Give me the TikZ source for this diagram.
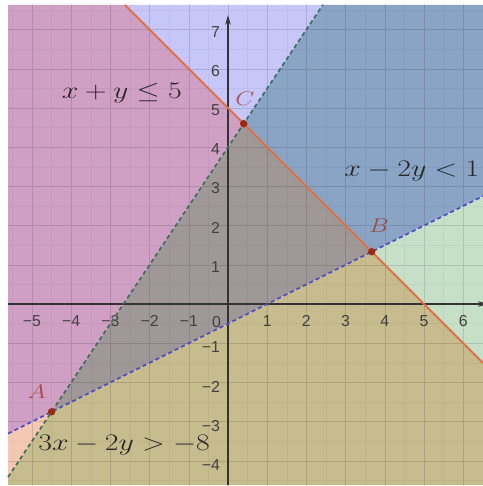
\documentclass[tikz,border=0pt]{standalone}
\usepackage{amsmath}
\usepackage{graphicx}
\usepackage{fontspec}
\newfontfamily\tickfont{Liberation Sans}
\usepackage{tikz}
\usetikzlibrary{arrows.meta}
\usepackage{xcolor}
\definecolor{triangle}{RGB}{160,152,150}
\definecolor{lavender}{RGB}{198,198,248}
\definecolor{steel}{RGB}{138,164,198}
\definecolor{palegreen}{RGB}{198,224,200}
\definecolor{khaki}{RGB}{198,188,142}
\definecolor{peach}{RGB}{245,200,180}
\definecolor{pinkish}{RGB}{208,160,196}
\definecolor{orangeline}{RGB}{224,112,72}
\definecolor{blueline}{RGB}{74,74,200}
\definecolor{greenline}{RGB}{60,110,90}
\definecolor{pointred}{RGB}{154,42,20}
\newcommand{\widetext}[1]{\scalebox{1.25}[1]{#1}}

\begin{document}
\begin{tikzpicture}[
    tick/.style={font=\tickfont\fontsize{11.5}{13}\selectfont, text=black!75, inner sep=0pt},
    ineq/.style={font=\fontsize{16}{19}\selectfont, text=black!85},
    ptlabel/.style={font=\fontsize{14}{17}\selectfont, text=pointred, text opacity=0.7},
    dashedline/.style={line width=1.2pt, dash pattern=on 3pt off 2.2pt},
    axisline/.style={line width=0.9pt, draw=black!80, -{Stealth[length=7pt,width=4pt]}}
  ]
    \useasboundingbox (-5.816,-4.643) rectangle (6.505,7.755);
    \fill[white] (-5.816,-4.643) rectangle (6.505,7.755);

    % vertices
    \coordinate (A) at (-4.5,-2.75);
    \coordinate (B) at ({11/3},{4/3});
    \coordinate (C) at (0.4,4.6);
    % box corners
    \coordinate (TL) at (-5.61,7.63);
    \coordinate (TR) at (6.505,7.63);
    \coordinate (BR) at (6.505,-4.62);
    \coordinate (BL) at (-5.61,-4.62);
    % where the lines leave the box
    \coordinate (L1top) at (-2.63,7.63);
    \coordinate (L1right) at (6.505,-1.505);
    \coordinate (L2left) at (-5.61,-3.305);
    \coordinate (L2right) at (6.505,2.7525);
    \coordinate (L3top) at (2.42,7.63);
    \coordinate (L3left) at (-5.61,-4.415);

    % regions
    \fill[triangle] (A) -- (B) -- (C) -- cycle;
    \fill[lavender] (C) -- (L1top) -- (L3top) -- cycle;
    \fill[steel] (C) -- (L3top) -- (TR) -- (L2right) -- (B) -- cycle;
    \fill[palegreen] (B) -- (L2right) -- (L1right) -- cycle;
    \fill[khaki] (A) -- (B) -- (L1right) -- (BR) -- (BL) -- (L3left) -- cycle;
    \fill[peach] (A) -- (L3left) -- (L2left) -- cycle;
    \fill[pinkish] (L2left) -- (A) -- (C) -- (L1top) -- (TL) -- cycle;

    % grid
    \begin{scope}
        \clip (BL) rectangle (TR);
        \draw[black, opacity=0.04, step=0.5] (-6,-5) grid (7,8);
        \draw[black, opacity=0.09, step=1] (-6,-5) grid (7,8);
    \end{scope}

    % axes
    \draw[axisline] (-5.61,0) -- (6.62,0);
    \draw[axisline] (0,-4.62) -- (0,7.37);

    % tick labels
    \foreach \x in {1,...,6}
        \node[tick] (xp\x) at (\x,-0.43) {\x};
    \foreach \x in {1,...,5}
        \node[tick] (xm\x) at (-\x,-0.43) {−\x};
    \node[tick] (origin) at (-0.29,-0.45) {0};
    \foreach \y in {1,...,7}
        \node[tick, anchor=east] (yp\y) at (-0.2,\y-0.05) {\y};
    \foreach \y in {1,...,4}
        \node[tick, anchor=east] (ym\y) at (-0.2,-\y-0.11) {−\y};

    % boundary lines
    \draw[orangeline, line width=1.4pt] (L1top) -- (L1right);
    \draw[blueline, dashedline] (L2left) -- (L2right);
    \draw[greenline, dashedline] (L3left) -- (L3top);

    % corner points
    \foreach \p in {A,B,C}
        \fill[pointred] (\p) circle (0.095);
    \node[ptlabel] (labA) at (-4.88,-2.24) {\widetext{$A$}};
    \node[ptlabel] (labB) at (3.85,1.99) {\widetext{$B$}};
    \node[ptlabel] (labC) at (0.43,5.23) {\widetext{$C$}};

    % inequalities
    \node[ineq] (ineq1) at (-2.71,5.38) {\widetext{$x+y\leq 5$}};
    \node[ineq] (ineq2) at (4.69,3.38) {\widetext{$x-2y<1$}};
    \node[ineq] (ineq3) at (-2.65,-3.6) {\widetext{$3x-2y>-8$}};
\end{tikzpicture}
\end{document}
